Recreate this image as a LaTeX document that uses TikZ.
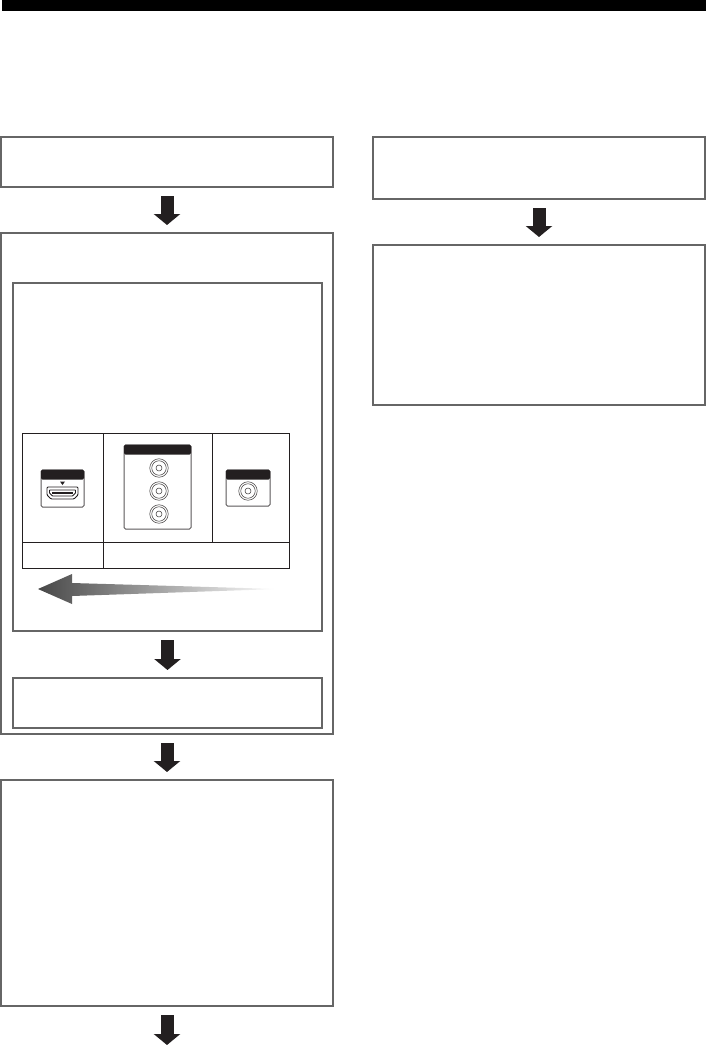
\documentclass[tikz,border=0pt]{standalone}
\usepackage{amsmath}
\usepackage{tikz}
\usetikzlibrary{positioning}
\usetikzlibrary{arrows.meta}

\definecolor{boxgray}{HTML}{666666}
\definecolor{inkblack}{HTML}{231F20}

\begin{document}
\begin{tikzpicture}[
		  x=1pt, y=-1pt,
		  every node/.style = {shape=rectangle, outer sep=0pt, inner sep=0pt},
		  stepbox/.style = {draw=boxgray, line width=2.5pt, minimum width=332pt},
		  innerbox/.style = {draw=boxgray, line width=2.5pt, minimum width=309pt},
		  cell/.style = {draw=inkblack, line width=0.7pt},
		  panel/.style = {draw=inkblack!75, line width=1pt, rounded corners=1.5pt, fill=white},
		  panelhead/.style = {fill=inkblack, rounded corners=1.5pt},
		  jack/.style = {shape=circle, draw=inkblack!85, line width=0.55pt},
		  flow/.style = {draw=inkblack, line width=13pt, -{Triangle[width=26pt,length=11pt]}, shorten <=9pt, shorten >=8pt}
		]
	  
		  \useasboundingbox (0,0) rectangle (706,1045);

		  \node (topbar) [anchor=north west, fill=black, minimum width=704pt, minimum height=11pt] at (2,0) {};

		  % left column
		  \node (start) [stepbox, anchor=north west, minimum height=50pt] at (1,137) {};
		  \node (setup) [stepbox, below=46pt of start, minimum height=501pt] {};
		  \node (inputs) [innerbox, anchor=north west, minimum height=348pt] at (13,283) {};
		  \node (confirm) [innerbox, below=47pt of inputs, minimum height=50pt] {};
		  \node (finish) [stepbox, below=46pt of setup, minimum height=226pt] {};
		  \coordinate (next) at (167,1054);

		  % right column
		  \node (resume) [stepbox, anchor=north west, minimum height=62pt] at (373,137) {};
		  \node (last) [stepbox, below=46pt of resume, minimum height=160pt] {};

		  \draw[flow] (start) -- (setup);
		  \draw[flow] (inputs) -- (confirm);
		  \draw[flow] (setup) -- (finish);
		  \draw[flow, shorten >=9pt] (finish) -- (next);
		  \draw[flow] (resume) -- (last);

		  % terminal table
		  \node (hdmicell) [cell, anchor=north west, minimum width=81pt, minimum height=109pt] at (22,433) {};
		  \node (compcell) [cell, right=0pt of hdmicell, minimum width=109pt, minimum height=109pt] {};
		  \node (coaxcell) [cell, right=0pt of compcell, minimum width=77pt, minimum height=109pt] {};
		  \node (bestcell) [cell, below=0pt of hdmicell, minimum width=81pt, minimum height=26pt] {};
		  \node (goodcell) [cell, right=0pt of bestcell, minimum width=186pt, minimum height=26pt] {};

		  % HDMI jack
		  \node (hdmipanel) [panel, anchor=north west, minimum width=43pt, minimum height=37pt] at (41,470) {};
		  \node (hdmihead) [panelhead, anchor=north west, minimum width=43pt, minimum height=10pt] at (41,469.5) {};
		  \fill[inkblack] (60,481.5) -- (65,481.5) -- (62.5,485) -- cycle;
		  \draw[inkblack, line width=0.9pt, rounded corners=1pt] (47,487) -- (78,487) -- (78,495) -- (74,499) -- (51,499) -- (47,495) -- cycle;
		  \draw[inkblack, line width=0.9pt, rounded corners=0.5pt] (49.5,490) -- (75.5,490) -- (75.5,493) -- (72.5,496) -- (52.5,496) -- (49.5,493) -- cycle;
		  \fill[inkblack] (52,492) rectangle (73,493.5);

		  % component jacks
		  \node (comppanel) [panel, anchor=north west, minimum width=67pt, minimum height=84pt] at (124,445) {};
		  \node (comphead) [panelhead, anchor=north west, minimum width=67pt, minimum height=10pt] at (124,444.5) {};
		  \foreach \name/\ypos in {green/468, blue/491, red/514} {
			\node (\name outer) [jack, minimum size=18.5pt] at (159,\ypos) {};
			\node (\name mid) [jack, minimum size=14.5pt] at (159,\ypos) {};
			\node (\name pin) [jack, minimum size=6pt] at (159,\ypos) {};
		  }

		  % coaxial jack
		  \node (coaxpanel) [panel, anchor=north west, minimum width=44pt, minimum height=36pt] at (226,470) {};
		  \node (coaxhead) [panelhead, anchor=north west, minimum width=44pt, minimum height=10pt] at (226,469.5) {};
		  \node (coaxouter) [jack, minimum size=18.5pt] at (248,491) {};
		  \node (coaxmid) [jack, minimum size=14.5pt] at (248,491) {};
		  \node (coaxpin) [jack, minimum size=6pt] at (248,491) {};

		  % priority arrow
		  \shade[left color=black!72, right color=white]
			(38,589) -- (72,574) -- (72,583) -- (278,589) -- (72,596) -- (72,604) -- cycle;
		\end{tikzpicture}
\end{document}
